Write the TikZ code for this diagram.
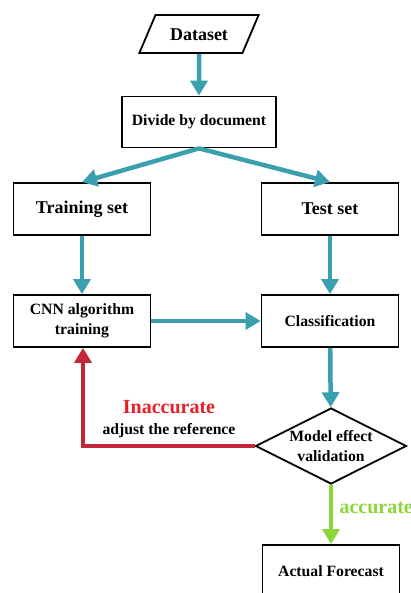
\documentclass[tikz,border=0pt]{standalone}
\usepackage{fontspec}
\setmainfont{Liberation Serif}
\usetikzlibrary{shapes.geometric,arrows.meta}
\definecolor{flowteal}{RGB}{58,160,176}
\definecolor{backred}{RGB}{196,40,56}
\definecolor{labelred}{RGB}{232,30,40}
\definecolor{okgreen}{RGB}{140,214,58}

\begin{document}
\begin{tikzpicture}[x=1pt,y=-1pt]
    \tikzstyle{every node}=[font=\bfseries\fontsize{15.7}{20}\selectfont,align=center]
    \tikzstyle{stepbox}=[rectangle,draw,line width=1.8pt,minimum width=137pt,minimum height=52pt]
    \tikzstyle{bigtext}=[font=\bfseries\fontsize{18}{21}\selectfont]
    \tikzstyle{iobox}=[trapezium,trapezium left angle=67,trapezium right angle=113,draw,line width=1.8pt,inner xsep=14.5pt,inner ysep=12.5pt,text height=13pt,text depth=0pt]
    \tikzstyle{check}=[diamond,aspect=2,draw,line width=1.8pt,minimum width=151pt,minimum height=76pt,inner sep=-2pt]
    \tikzstyle{flow}=[draw=flowteal,line width=4.5pt,-{Triangle[length=15pt,width=17pt]}]
    \useasboundingbox (0,0) rectangle (410,593);
    \node[iobox,bigtext] (data) at (199,34) {Dataset};
    \node[stepbox,minimum width=154pt,minimum height=51pt] (divide) at (199,122) {Divide by document};
    \node[stepbox,bigtext] (train) at (82,209) {Training set};
    \node[stepbox,bigtext] (test) at (330,209) {Test set};
    \node[stepbox] (cnn) at (82,321) {CNN algorithm\\training};
    \node[stepbox] (classify) at (330,321) {Classification};
    \node[check] (valid) at (331,446) {Model effect\\validation};
    \node[stepbox] (forecast) at (331,571) {Actual Forecast};
    \coordinate (corner) at (83,446);
    % connectors
    \draw[flow] (data) -- (divide);
    \draw[flow] (divide.south) -- (train.north);
    \draw[flow] (divide.south) -- (test.north);
    \draw[flow] (train) -- (cnn);
    \draw[flow] (test) -- (classify);
    \draw[flow] (cnn) -- (classify);
    \draw[flow] (classify) -- (valid);
    \draw[draw=backred,line width=4.5pt,-{Triangle[length=15pt,width=17pt]}] (valid.west) -- (corner) -- (cnn.south -| corner);
    \draw[draw=okgreen,line width=4.5pt,-{Triangle[length=15pt,width=17pt]}] (valid.south) -- (forecast.north);
    % labels
    \node[text=labelred,font=\bfseries\fontsize{20}{24}\selectfont] (inacc) at (169,407) {Inaccurate};
    \node (adjust) at (169,431) {adjust the reference};
    \node[text=okgreen,font=\bfseries\fontsize{20}{24}\selectfont,anchor=west] (acc) at (336,508) {accurate};
\end{tikzpicture}
\end{document}
